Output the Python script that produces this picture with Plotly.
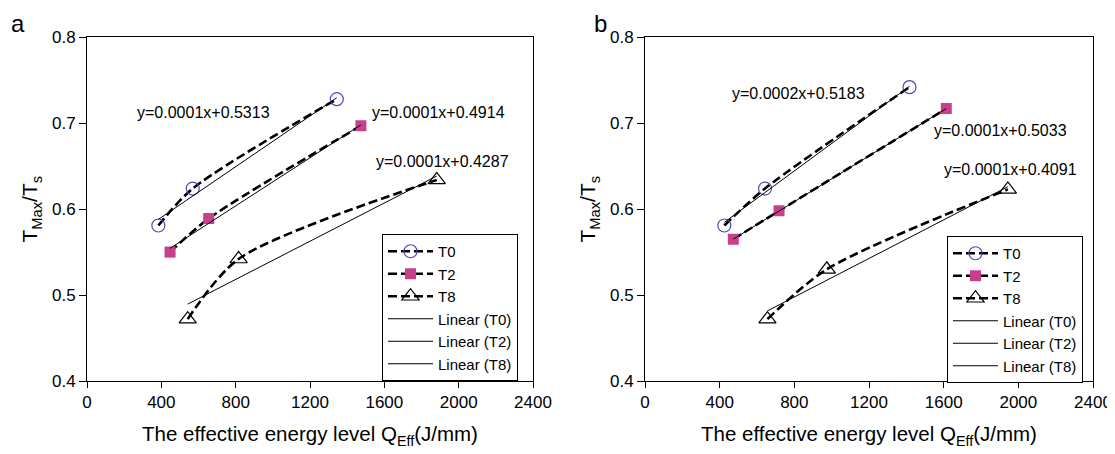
import numpy as np
import plotly.graph_objects as go

# ---- data ----
a_T0_x = [384, 569, 1344]
a_T0_y = [0.581, 0.624, 0.728]
a_T2_x = [447, 655, 1474]
a_T2_y = [0.550, 0.589, 0.697]
a_T8_x = [542, 816, 1882]
a_T8_y = [0.472, 0.542, 0.634]

b_T0_x = [425, 643, 1417]
b_T0_y = [0.581, 0.624, 0.742]
b_T2_x = [473, 718, 1614]
b_T2_y = [0.565, 0.598, 0.717]
b_T8_x = [656, 974, 1944]
b_T8_y = [0.472, 0.530, 0.623]

series_names = ["T0", "T2", "T8"]
a_equations = ["y=0.0001x+0.5313", "y=0.0001x+0.4914", "y=0.0001x+0.4287"]
b_equations = ["y=0.0002x+0.5183", "y=0.0001x+0.5033", "y=0.0001x+0.4091"]
x_ticks = [0, 400, 800, 1200, 1600, 2000, 2400]
y_ticks = [0.4, 0.5, 0.6, 0.7, 0.8]

# ---- layout helpers (page has an 8px body margin) ----
OFF = 8
W, H = 1115 - OFF, 454 - OFF


def fx(px):
    return (px - OFF) / W


def fy(py):
    return 1 - (py - OFF) / H


FONT = "Liberation Sans, Arial, sans-serif"
marker_styles = [
    dict(symbol="circle-open", size=13, color="#4b4bb0", line=dict(width=1.2, color="#4b4bb0")),
    dict(symbol="square", size=11, color="#c8408c"),
    dict(symbol="triangle-up-open", size=15, color="black", line=dict(width=1.2, color="black")),
]

fig = go.Figure()

panels = [
    ("x", "y", "legend", [(a_T0_x, a_T0_y), (a_T2_x, a_T2_y), (a_T8_x, a_T8_y)]),
    ("x2", "y2", "legend2", [(b_T0_x, b_T0_y), (b_T2_x, b_T2_y), (b_T8_x, b_T8_y)]),
]

for xa, ya, lg, data in panels:
    for name, (xs, ys), mk in zip(series_names, data, marker_styles):
        fig.add_trace(go.Scatter(
            x=xs, y=ys, mode="lines+markers", name=name,
            line=dict(color="black", width=2.6, dash="9px,4px", shape="spline", smoothing=0.8),
            marker=mk, xaxis=xa, yaxis=ya, legend=lg,
        ))
    for name, (xs, ys) in zip(series_names, data):
        k, b = np.polyfit(xs, ys, 1)
        xl = np.array([min(xs), max(xs)], dtype=float)
        fig.add_trace(go.Scatter(
            x=xl, y=k * xl + b, mode="lines", name=f"Linear ({name})",
            line=dict(color="black", width=1), xaxis=xa, yaxis=ya, legend=lg,
        ))

# equation labels
a_eq_pos = [(626, 0.712), (1890, 0.712), (1912, 0.655)]
b_eq_pos = [(822, 0.735), (1903, 0.692), (1957, 0.646)]
for (xa, ya), eqs, poss in [(("x", "y"), a_equations, a_eq_pos), (("x2", "y2"), b_equations, b_eq_pos)]:
    for t, (px, py) in zip(eqs, poss):
        fig.add_annotation(x=px, y=py, xref=xa, yref=ya, text=t, showarrow=False,
                           font=dict(size=16, color="black", family=FONT))

# panel letters
for letter, lx in [("a", 9), ("b", 592)]:
    fig.add_annotation(x=fx(lx), y=1, xref="paper", yref="paper", text=letter,
                       showarrow=False, xanchor="left", yanchor="top",
                       font=dict(size=24, color="black", family=FONT))

ydom = [fy(381), fy(37.3)]
xax_common = dict(range=[0, 2400], tickvals=x_ticks, ticks="outside", ticklen=6,
                  showline=True, linecolor="black", linewidth=1, mirror=True,
                  showgrid=False, zeroline=False, tickcolor="black",
                  tickfont=dict(size=17, color="black", family=FONT),
                  title=dict(text="The effective energy level Q<sub>Eff</sub>(J/mm)",
                             font=dict(size=20.5, color="black", family=FONT), standoff=15))
yax_common = dict(range=[0.4, 0.8], tickvals=y_ticks, tickformat=".1f", ticks="outside", ticklen=7,
                  showline=True, linecolor="black", linewidth=1, mirror=True,
                  showgrid=False, zeroline=False, tickcolor="black",
                  tickfont=dict(size=17, color="black", family=FONT),
                  title=dict(text="T<sub>Max</sub>/T<sub>s</sub>",
                             font=dict(size=21, color="black", family=FONT), standoff=8),
                  domain=ydom)

legend_common = dict(bgcolor="white", bordercolor="black", borderwidth=1,
                     font=dict(size=15, color="black", family=FONT),
                     xanchor="left", yanchor="top", itemwidth=45, tracegroupgap=0)

fig.update_layout(
    width=W, height=H,
    margin=dict(l=0, r=0, t=0, b=0, autoexpand=False),
    paper_bgcolor="white", plot_bgcolor="white",
    xaxis=dict(xax_common, domain=[fx(87), fx(533)], anchor="y"),
    yaxis=dict(yax_common, anchor="x"),
    xaxis2=dict(xax_common, domain=[fx(645), fx(1093)], anchor="y2"),
    yaxis2=dict(yax_common, anchor="x2"),
    legend=dict(legend_common, x=fx(382), y=fy(234)),
    legend2=dict(legend_common, x=fx(947), y=fy(236)),
    showlegend=True,
)

fig.write_html("out.html")
